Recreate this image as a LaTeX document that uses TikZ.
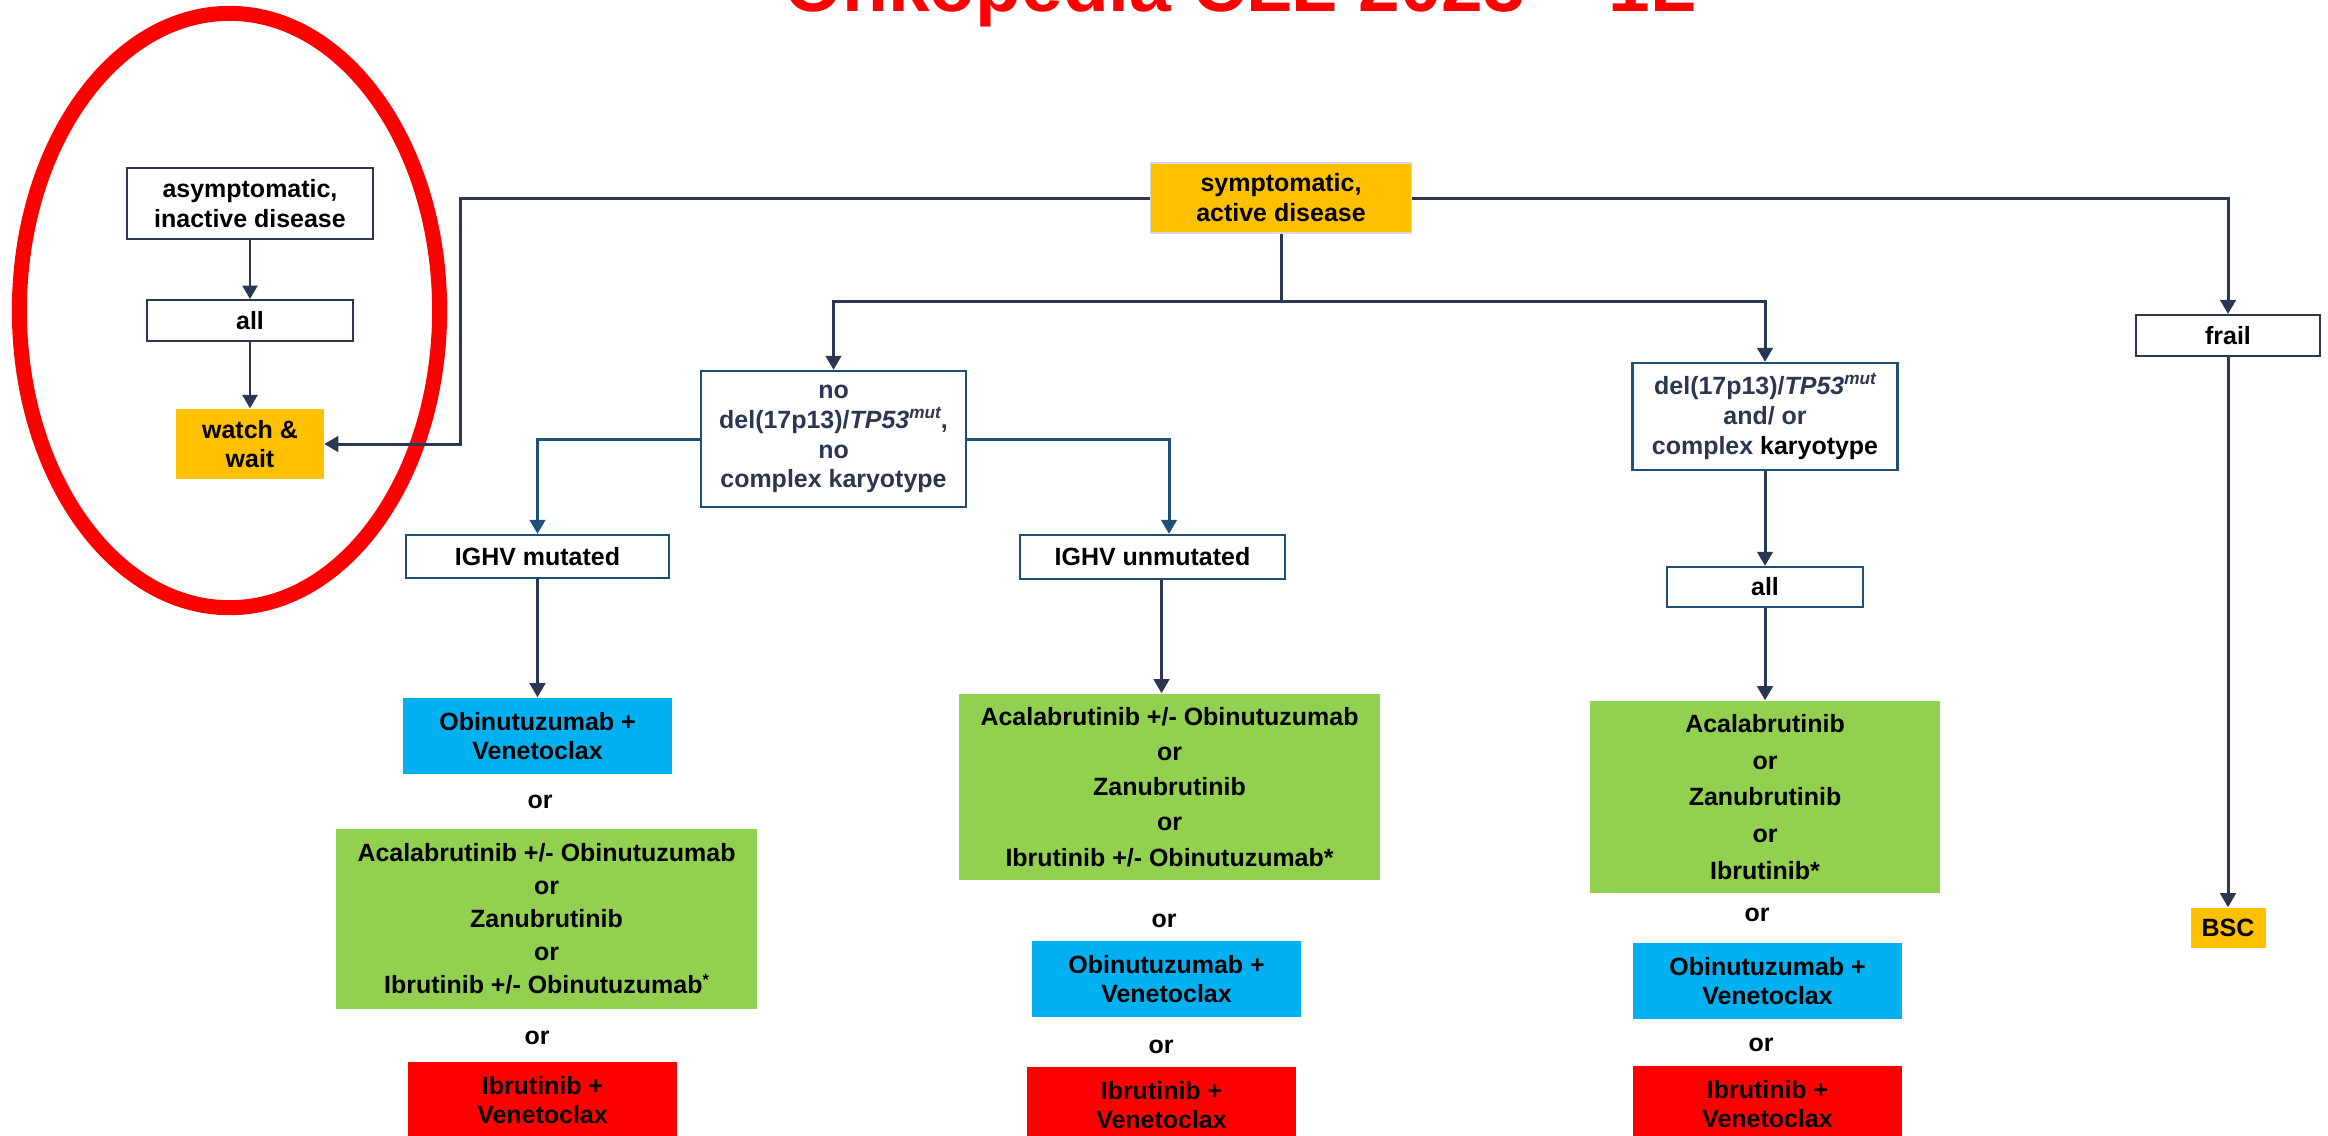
\documentclass[tikz,border=0pt]{standalone}
\usepackage{fontspec}
\setmainfont{Liberation Sans}
\usepackage{xcolor}
\usetikzlibrary{positioning,calc,arrows.meta}
\definecolor{lineNavy}{RGB}{43,54,82}
\definecolor{boxBlue}{RGB}{31,78,121}
\definecolor{waitOrange}{RGB}{255,192,0}
\definecolor{therapyCyan}{RGB}{0,176,240}
\definecolor{therapyGreen}{RGB}{146,208,80}
\definecolor{therapyRed}{RGB}{255,0,0}
\definecolor{borderGray}{RGB}{217,217,217}
\newcommand{\mutsup}{\raisebox{0.38em}{\fontsize{4.9}{5}\selectfont\itshape mut}}
\newcommand{\starsup}{\raisebox{0.32em}{\fontsize{4.6}{5}\selectfont *}}
\tikzset{
    basebox/.style={rectangle, inner sep=0pt, align=center, font=\bfseries\fontsize{7.1}{8.5}\selectfont},
    navybox/.style={basebox, draw=lineNavy, line width=0.6pt, fill=white},
    bluebox/.style={basebox, draw=boxBlue, line width=0.65pt, fill=white},
    orangebox/.style={basebox, fill=waitOrange},
    cyanbox/.style={basebox, fill=therapyCyan, minimum width=2.69cm, minimum height=0.76cm},
    greenbox/.style={basebox, fill=therapyGreen},
    redbox/.style={basebox, fill=therapyRed, minimum width=2.69cm, minimum height=0.76cm},
    ortext/.style={basebox},
    link/.style={draw=lineNavy, line width=0.85pt},
    arr/.style={link, -{Triangle[width=4.4pt,length=4pt]}},
    thinarr/.style={draw=lineNavy, line width=0.6pt, -{Triangle[width=4.3pt,length=3.8pt]}},
    bluearr/.style={draw=boxBlue, line width=0.85pt, -{Triangle[width=4.4pt,length=4pt]}}
}
\begin{document}
\begin{tikzpicture}[x=0.01cm, y=-0.01cm]
    \fill[white] (0,0) rectangle (2328,1135);
    \useasboundingbox (0,0) rectangle (2328,1135);
    \clip (0,0) rectangle (2328,1135);
    % --- Titel ---
    \node[font=\bfseries\fontsize{21.3}{24}\selectfont, text=therapyRed, anchor=base, inner sep=0pt] (title) at (1240,11) {Onkopedia CLL 2023 – 1L};
    % --- linke Spalte ---
    \node[navybox, minimum width=2.46cm, minimum height=0.71cm] (asym) at (250,203.5) {asymptomatic,\\inactive disease};
    \node[navybox, minimum width=2.06cm, minimum height=0.41cm] (allL) at (250,320.5) {all};
    \node[orangebox, minimum width=1.47cm, minimum height=0.70cm] (watch) at (250,444) {watch \&\\wait};
    \draw[therapyRed, line width=0.15cm] (229.5,310.5) ellipse [x radius=2.1cm, y radius=2.97cm];
    \draw[thinarr] (asym) -- (allL);
    \draw[thinarr] (allL) -- (watch);
    % --- symptomatisch ---
    \node[orangebox, draw=borderGray, line width=0.5pt, minimum width=2.61cm, minimum height=0.70cm] (sympt) at (1281,198) {symptomatic,\\active disease};
    \node[navybox, minimum width=1.84cm, minimum height=0.41cm] (frail) at (2228,335.5) {frail};
    \node[orangebox, minimum width=0.75cm, minimum height=0.40cm] (bsc) at (2228,928) {BSC};
    \node[bluebox, text=lineNavy, minimum width=2.65cm, minimum height=1.36cm] (nodel) at (833.5,439) {no\\del(17p13)/\textit{TP53}\mutsup,\\no\\complex karyotype};
    \node[bluebox, text=lineNavy, minimum width=2.65cm, minimum height=1.07cm] (delp) at (1765,416.5) {del(17p13)/\textit{TP53}\mutsup\\and/ or\\complex \textcolor{black}{karyotype}};
    \node[bluebox, minimum width=2.63cm, minimum height=0.43cm] (ighvm) at (537.5,556.5) {IGHV mutated};
    \node[bluebox, minimum width=2.65cm, minimum height=0.44cm] (ighvu) at (1152.5,557) {IGHV unmutated};
    \node[bluebox, minimum width=1.96cm, minimum height=0.40cm] (allR) at (1765,587) {all};
    % --- Therapien IGHV mutiert ---
    \node[cyanbox] (obiL) at (537.5,736) {Obinutuzumab +\\Venetoclax};
    \node[ortext] (orL1) at (540,802) {or};
    \node[greenbox, minimum width=4.21cm, minimum height=1.80cm, font=\bfseries\fontsize{7.1}{9.4}\selectfont] (acaL) at (546.5,919) {Acalabrutinib +/- Obinutuzumab\\or\\Zanubrutinib\\or\\Ibrutinib +/- Obinutuzumab\starsup};
    \node[ortext] (orL2) at (537,1038) {or};
    \node[redbox] (ibrL) at (542.5,1100) {Ibrutinib +\\Venetoclax};
    % --- Therapien IGHV unmutiert ---
    \node[greenbox, minimum width=4.21cm, minimum height=1.86cm, font=\bfseries\fontsize{7.1}{10}\selectfont] (acaM) at (1169.5,787) {Acalabrutinib +/- Obinutuzumab\\or\\Zanubrutinib\\or\\Ibrutinib +/- Obinutuzumab*};
    \node[ortext] (orM1) at (1164,921) {or};
    \node[cyanbox] (obiM) at (1166.5,979) {Obinutuzumab +\\Venetoclax};
    \node[ortext] (orM2) at (1161,1047) {or};
    \node[redbox] (ibrM) at (1161.5,1105) {Ibrutinib +\\Venetoclax};
    % --- Therapien del(17p) ---
    \node[greenbox, minimum width=3.49cm, minimum height=1.92cm, font=\bfseries\fontsize{7.1}{10.4}\selectfont] (acaR) at (1765,797) {Acalabrutinib\\or\\Zanubrutinib\\or\\Ibrutinib*};
    \node[ortext] (orR1) at (1757,915) {or};
    \node[cyanbox] (obiR) at (1767.5,981) {Obinutuzumab +\\Venetoclax};
    \node[ortext] (orR2) at (1761,1045) {or};
    \node[redbox] (ibrR) at (1767.5,1104) {Ibrutinib +\\Venetoclax};
    % --- Verbindungen ---
    \coordinate (bendL) at (460,300);
    \coordinate (split) at (1281,301);
    \draw[arr] (sympt.west) -| (bendL) |- (watch.east);
    \draw[arr] (sympt.east) -| (frail.north);
    \draw[link] (sympt.south) -- (split);
    \draw[arr] (split) -| (nodel.north);
    \draw[arr] (split) -| (delp.north);
    \draw[bluearr] (nodel.west) -| (ighvm.north);
    \draw[bluearr] (nodel.east) -| ([xshift=0.165cm]ighvu.north);
    \draw[arr] (ighvm) -- (obiL);
    \draw[arr] ([xshift=0.09cm]ighvu.south) -- ([xshift=0.09cm]ighvu.south |- acaM.north);
    \draw[arr] (delp) -- (allR);
    \draw[arr] (allR) -- (acaR);
    \draw[arr] (frail) -- (bsc);
\end{tikzpicture}
\end{document}
